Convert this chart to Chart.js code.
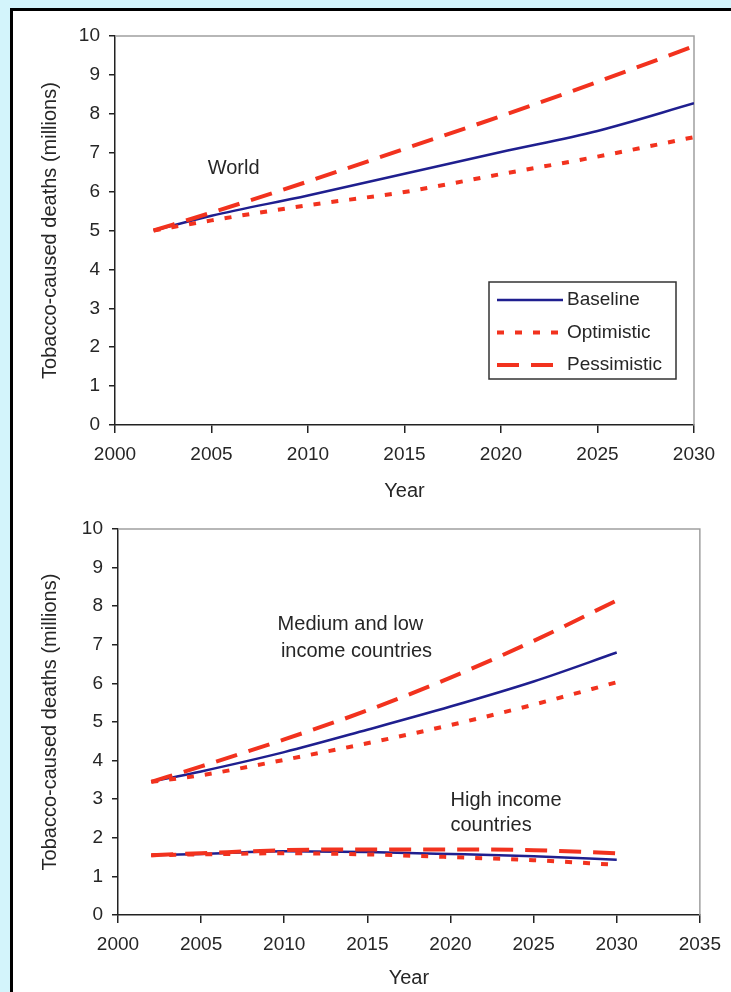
<!DOCTYPE html>
<html>
<head>
<meta charset="utf-8">
<script src="https://cdn.jsdelivr.net/npm/chart.js@4.4.1/dist/chart.umd.min.js"></script>
<style>
  html, body { margin: 0; padding: 0; }
  body { width: 731px; height: 992px; background: #d3f4fb; position: relative; overflow: hidden; }
  #panel { position: absolute; left: 10px; top: 8px; width: 760px; height: 1020px; background: #fff; border: 3px solid #000; }
  canvas { position: absolute; left: 0; filter: blur(0.4px); }
  #topChart { top: 0; }
  #bottomChart { top: 505px; }
</style>
</head>
<body>
<div id="panel"></div>
<canvas id="topChart" width="731" height="505"></canvas>
<canvas id="bottomChart" width="731" height="487"></canvas>
<script>
// years shared by every series
const years = [2002, 2005, 2010, 2015, 2020, 2025, 2030];

// world, millions of deaths
const worldBaseline    = [5.0, 5.38, 5.9, 6.46, 7.02, 7.56, 8.27];
const worldOptimistic  = [5.0, 5.26, 5.65, 5.99, 6.45, 6.9, 7.4];
const worldPessimistic = [5.0, 5.46, 6.26, 7.1, 7.94, 8.82, 9.74];

// medium and low income countries
const lowBaseline    = [3.45, 3.72, 4.22, 4.8, 5.4, 6.05, 6.8];
const lowOptimistic  = [3.45, 3.62, 4.02, 4.45, 4.92, 5.45, 6.03];
const lowPessimistic = [3.45, 3.85, 4.55, 5.3, 6.15, 7.1, 8.15];

// high income countries
const highBaseline    = [1.55, 1.58, 1.65, 1.63, 1.58, 1.52, 1.43];
const highOptimistic  = [1.55, 1.57, 1.6, 1.57, 1.5, 1.42, 1.3];
const highPessimistic = [1.55, 1.6, 1.68, 1.7, 1.7, 1.68, 1.6];

const scenarioLabels = ['Baseline', 'Optimistic', 'Pessimistic'];

const FONT = '"Liberation Sans", Arial, sans-serif';
const TEXT = '#262626';
const NAVY = '#1f1f8f';
const RED = '#f2321e';

Chart.defaults.font.family = FONT;
Chart.defaults.font.size = 19;
Chart.defaults.color = TEXT;

const styles = {
  Baseline:    { borderColor: NAVY, borderWidth: 2.5, borderDash: [], order: 2 },
  Optimistic:  { borderColor: RED, borderWidth: 4, borderDash: [7, 11], order: 1 },
  Pessimistic: { borderColor: RED, borderWidth: 4, borderDash: [22, 12], order: 1 },
};

function series(label, values) {
  return {
    label,
    data: years.map((yr, i) => ({ x: yr, y: values[i] })),
    pointRadius: 0,
    fill: false,
    cubicInterpolationMode: 'monotone',
    ...styles[label],
  };
}

// gray frame on top and right of the plot, like the original
const plotFrame = {
  id: 'plotFrame',
  beforeDatasetsDraw(chart) {
    const { ctx, chartArea: a } = chart;
    ctx.save();
    ctx.strokeStyle = '#a0a0a0';
    ctx.lineWidth = 1.5;
    ctx.beginPath();
    ctx.moveTo(a.left, a.top);
    ctx.lineTo(a.right, a.top);
    ctx.lineTo(a.right, a.bottom);
    ctx.stroke();
    ctx.restore();
  },
};

// text labels placed in data units
const notes = {
  id: 'notes',
  afterDatasetsDraw(chart, args, opts) {
    const { ctx, scales: { x, y } } = chart;
    ctx.save();
    ctx.font = '20px ' + FONT;
    ctx.fillStyle = TEXT;
    ctx.textBaseline = 'middle';
    ctx.textAlign = 'left';
    (opts.items || []).forEach(n => {
      ctx.fillText(n.text, x.getPixelForValue(n.x), y.getPixelForValue(n.y));
    });
    ctx.restore();
  },
};

// boxed legend inside the plot area
const boxLegend = {
  id: 'boxLegend',
  afterDatasetsDraw(chart, args, opts) {
    if (!opts.display) return;
    const { ctx, chartArea: a } = chart;
    const w = 187, h = 97;
    const left = a.right - 18 - w;
    const top = a.top + 246;
    ctx.save();
    ctx.fillStyle = '#fff';
    ctx.fillRect(left, top, w, h);
    ctx.strokeStyle = '#333';
    ctx.lineWidth = 1.5;
    ctx.strokeRect(left, top, w, h);
    scenarioLabels.forEach((label, i) => {
      const st = styles[label];
      const yy = top + 18 + i * 32.5;
      ctx.beginPath();
      ctx.setLineDash(st.borderDash);
      ctx.strokeStyle = st.borderColor;
      ctx.lineWidth = st.borderWidth;
      ctx.moveTo(left + 8, yy);
      ctx.lineTo(left + 74, yy);
      ctx.stroke();
      ctx.setLineDash([]);
      ctx.fillStyle = TEXT;
      ctx.font = '19px ' + FONT;
      ctx.textBaseline = 'middle';
      ctx.fillText(label, left + 78, yy);
    });
    ctx.restore();
  },
};

function axes(xMax, yWidth, xHeight) {
  const grid = { drawOnChartArea: false, color: '#222', lineWidth: 1.5 };
  const border = { color: '#222', width: 1.5 };
  return {
    x: {
      type: 'linear',
      min: 2000,
      max: xMax,
      ticks: { stepSize: 5, padding: 10, callback: v => String(v) },
      grid: { ...grid, tickLength: 8 },
      border,
      title: { display: true, text: 'Year', font: { size: 20 }, padding: { top: 0, bottom: 2 } },
      afterFit: s => { s.height = xHeight; },
    },
    y: {
      min: 0,
      max: 10,
      ticks: { stepSize: 1, padding: 9 },
      grid: { ...grid, tickLength: 6 },
      border,
      title: { display: true, text: 'Tobacco-caused deaths (millions)', font: { size: 20 }, padding: { top: 2, bottom: 0 } },
      afterFit: s => { s.width = yWidth; },
    },
  };
}

new Chart(document.getElementById('topChart'), {
  type: 'line',
  data: {
    datasets: [
      series('Baseline', worldBaseline),
      series('Optimistic', worldOptimistic),
      series('Pessimistic', worldPessimistic),
    ],
  },
  options: {
    responsive: false,
    animation: false,
    devicePixelRatio: 1,
    layout: { padding: { left: 36, right: 37, top: 36, bottom: 0 } },
    scales: axes(2030, 79, 80),
    plugins: {
      legend: { display: false },
      tooltip: { enabled: false },
      notes: { items: [{ text: 'World', x: 2004.8, y: 6.6 }] },
      boxLegend: { display: true },
    },
  },
  plugins: [plotFrame, notes, boxLegend],
});

new Chart(document.getElementById('bottomChart'), {
  type: 'line',
  data: {
    datasets: [
      series('Baseline', lowBaseline),
      series('Optimistic', lowOptimistic),
      series('Pessimistic', lowPessimistic),
      series('Baseline', highBaseline),
      series('Optimistic', highOptimistic),
      series('Pessimistic', highPessimistic),
    ],
  },
  options: {
    responsive: false,
    animation: false,
    devicePixelRatio: 1,
    layout: { padding: { left: 36, right: 26, top: 24, bottom: 0 } },
    scales: axes(2035, 82, 77),
    plugins: {
      legend: { display: false },
      tooltip: { enabled: false },
      notes: {
        items: [
          { text: 'Medium and low', x: 2009.6, y: 7.52 },
          { text: 'income countries', x: 2009.8, y: 6.83 },
          { text: 'High income', x: 2020.0, y: 2.97 },
          { text: 'countries', x: 2020.0, y: 2.31 },
        ],
      },
      boxLegend: { display: false },
    },
  },
  plugins: [plotFrame, notes, boxLegend],
});
</script>
</body>
</html>
